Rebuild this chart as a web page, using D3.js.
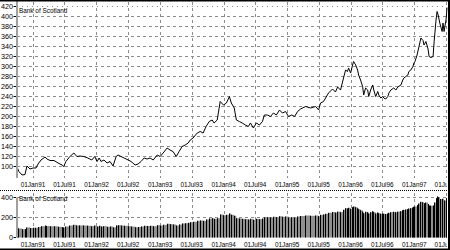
<!DOCTYPE html>
<html><head><meta charset="utf-8">
<script src="https://cdn.jsdelivr.net/npm/d3@7"></script>
<style>
html,body{margin:0;padding:0;background:#fff;}
svg{display:block;}
text{font-family:"Liberation Sans",Arial,sans-serif;font-size:8px;fill:#000;}
</style></head><body>
<svg id="c" width="450" height="250"></svg>
<script>
const title = "Bank of Scotland";
const dates = [
"1990-10-01","1990-10-12","1990-10-30","1990-11-16","1990-11-27","1990-12-15",
"1991-01-01","1991-01-18","1991-01-30","1991-02-16","1991-03-11","1991-03-22","1991-04-09","1991-05-02","1991-05-25","1991-06-17","1991-06-27",
"1991-07-09","1991-08-01","1991-08-24","1991-09-10","1991-09-27","1991-10-20","1991-11-12","1991-12-05","1991-12-22",
"1992-01-04","1992-01-16","1992-01-27","1992-02-13","1992-03-02","1992-03-19","1992-04-05","1992-04-23","1992-05-04","1992-05-21","1992-06-08",
"1992-07-01","1992-07-18","1992-08-10","1992-08-27","1992-09-13","1992-10-01","1992-10-18","1992-11-04","1992-11-22","1992-12-15",
"1993-01-01","1993-01-18","1993-02-10","1993-02-27","1993-03-16","1993-04-03","1993-04-20","1993-05-07","1993-05-25","1993-06-11","1993-06-23",
"1993-07-09","1993-08-02","1993-08-19","1993-09-05","1993-09-22","1993-10-10","1993-10-27","1993-11-07","1993-11-25","1993-12-12","1993-12-31",
"1994-01-17","1994-02-03","1994-02-14","1994-03-03","1994-03-15","1994-04-01","1994-04-18","1994-05-06","1994-05-23","1994-06-04","1994-06-21",
"1994-07-08","1994-07-26","1994-08-12","1994-08-23","1994-09-10","1994-09-27","1994-10-14","1994-10-31","1994-11-18","1994-12-05","1994-12-23",
"1995-01-09","1995-01-27","1995-02-13","1995-03-02","1995-03-19","1995-04-17","1995-05-16","1995-06-14",
"1995-07-01","1995-07-12","1995-07-29","1995-08-10","1995-08-27","1995-09-19","1995-10-06","1995-10-18","1995-11-04","1995-11-21","1995-12-03","1995-12-14","1995-12-20",
"1996-01-01","1996-01-12","1996-01-18","1996-01-30","1996-02-10","1996-02-16","1996-02-27","1996-03-10","1996-03-16","1996-03-27","1996-04-08","1996-04-14","1996-04-25","1996-05-07","1996-05-13","1996-05-24","1996-06-05","1996-06-11","1996-06-22",
"1996-07-04","1996-07-10","1996-07-21","1996-08-02","1996-08-08","1996-08-19","1996-09-05","1996-09-17","1996-09-28","1996-10-16","1996-10-27","1996-11-02","1996-11-13","1996-11-25","1996-12-01","1996-12-12","1996-12-24","1996-12-30",
"1997-01-05","1997-01-17","1997-01-28","1997-02-08","1997-02-20","1997-02-26","1997-03-09","1997-03-21","1997-03-27","1997-04-07","1997-04-19","1997-04-25","1997-05-06","1997-05-12","1997-05-18","1997-05-29","1997-06-10","1997-06-15","1997-06-21","1997-07-03","1997-07-08"
];
const prices = [
99,90,83,84,101,95,
97,97,105,113,119,115,112,112,107,103,100,
110,120,127,120,121,120,117,113,120,
110,117,110,113,107,110,101,120,123,120,117,
113,110,103,105,110,117,115,117,113,123,
120,127,137,133,130,120,130,140,143,147,153,
157,167,170,167,180,190,193,187,193,230,223,
227,240,227,217,193,190,187,183,180,187,177,
187,183,190,203,203,200,207,203,213,207,210,
200,203,200,210,215,220,217,220,
213,227,230,237,247,255,249,259,253,277,293,290,297,
287,303,310,303,293,283,273,260,243,257,253,240,253,263,253,240,250,243,237,
240,237,235,240,247,253,257,253,259,263,273,277,280,283,290,293,300,307,
310,323,340,357,352,343,350,335,320,318,320,350,393,410,403,385,370,387,370,395,418
];
const priceTicks = [100,120,140,160,180,200,220,240,260,280,300,320,340,360,380,400,420];
const barTicks = [0,200,400];
const dateTicks = ["1991-01-01","1991-07-01","1992-01-01","1992-07-01","1993-01-01","1993-07-01","1994-01-01","1994-07-01","1995-01-01","1995-07-01","1996-01-01","1996-07-01","1997-01-01","1997-07-01"];
const xDomain = ["1990-10-01","1997-07-08"];

const parse = d3.utcParse("%Y-%m-%d");
const fmt = d3.utcFormat("%d%b%y");
const data = dates.map((d,i)=>({date:parse(d), v:prices[i]}));
const tickDates = dateTicks.map(parse);

const L = 17, R = 447;
const x = d3.scaleTime().domain(xDomain.map(parse)).range([L, R]);
const yT = d3.scaleLinear().domain([80, 420]).range([176.5, 6.5]);
const yB = d3.scaleLinear().domain([0, 400]).range([237.5, 197.5]);

const svg = d3.select("#c");
const gridCol = "#8c8c8c";
const px = v => Math.round(v) + 0.5;
const SX = 0.8, SY = 0.9;

svg.append("defs").append("clipPath").attr("id","clip")
  .append("rect").attr("x",L).attr("y",0).attr("width",R-L).attr("height",250);

function xLabels(g, yPos) {
  g.append("g").attr("clip-path","url(#clip)").selectAll("g").data(tickDates).join("g")
    .attr("transform", d => `translate(${x(d)},${yPos})`)
    .append("text").attr("transform",`scale(${SX},1)`).attr("text-anchor","middle").text(d=>fmt(d));
}
function yLabels(g, ticks, sc) {
  g.selectAll("g.yl").data(ticks).join("g").attr("class","yl")
    .attr("transform", d => `translate(13,${sc(d)})`)
    .append("text").attr("transform",`scale(${SY},1)`).attr("dy","0.35em").attr("text-anchor","end").text(d=>d);
}
function titleText(g, yPos) {
  g.append("g").attr("transform",`translate(19,${yPos})`)
    .append("text").attr("transform",`scale(${SX},1)`).text(title);
}

// ---------- top panel ----------
const gTop = svg.append("g");
gTop.selectAll("line.hg").data(priceTicks).join("line")
  .attr("x1",L).attr("x2",R).attr("y1",d=>px(yT(d)-0.5)).attr("y2",d=>px(yT(d)-0.5))
  .attr("stroke",gridCol).attr("stroke-width",1)
  .attr("stroke-dasharray",d=>d===420?"1,4":"3,3");
gTop.selectAll("line.vg").data(tickDates).join("line")
  .attr("x1",d=>px(x(d))).attr("x2",d=>px(x(d))).attr("y1",2).attr("y2",178)
  .attr("stroke",gridCol).attr("stroke-width",1).attr("stroke-dasharray","3,3");

gTop.append("path").datum(data)
  .attr("fill","none").attr("stroke","#000").attr("stroke-width",1)
  .attr("d", d3.line().x(d=>x(d.date)).y(d=>yT(d.v)));

gTop.append("rect").attr("x",L-1).attr("y",0).attr("width",2).attr("height",178).attr("fill","#a0a0a0");
gTop.selectAll("line.tk").data(priceTicks).join("line")
  .attr("x1",13.5).attr("x2",16).attr("y1",d=>px(yT(d)-0.5)).attr("y2",d=>px(yT(d)-0.5))
  .attr("stroke","#000");
yLabels(gTop, priceTicks, yT);
titleText(gTop, 13);
xLabels(gTop, 187);

// separator
svg.append("line").attr("x1",0).attr("x2",450).attr("y1",190.5).attr("y2",190.5)
  .attr("stroke","#000").attr("stroke-dasharray","1,1");

// ---------- bottom panel ----------
const gBot = svg.append("g");
gBot.selectAll("line.hg").data(barTicks.filter(d=>d>0)).join("line")
  .attr("x1",L).attr("x2",R).attr("y1",d=>px(yB(d)-0.5)).attr("y2",d=>px(yB(d)-0.5))
  .attr("stroke",gridCol).attr("stroke-dasharray","3,3");
gBot.selectAll("line.vg").data(tickDates).join("line")
  .attr("x1",d=>px(x(d))).attr("x2",d=>px(x(d))).attr("y1",193).attr("y2",238)
  .attr("stroke",gridCol).attr("stroke-dasharray","3,3");

const bars = gBot.append("g").attr("clip-path","url(#clip)");
bars.selectAll("rect.g").data(data).join("rect")
  .attr("x",d=>x(d.date))
  .attr("width",(d,i)=>Math.max(1,(i<data.length-1?x(data[i+1].date):R)-x(d.date)))
  .attr("y",d=>yB(d.v)).attr("height",d=>yB(0)-yB(d.v))
  .attr("fill","#909090");
bars.selectAll("rect.b").data(data).join("rect")
  .attr("x",d=>Math.floor(x(d.date))).attr("width",1)
  .attr("y",d=>yB(d.v)).attr("height",d=>yB(0)-yB(d.v))
  .attr("fill","#000");

gBot.append("rect").attr("x",L-1).attr("y",yB(400)).attr("width",2).attr("height",yB(0)-yB(400)).attr("fill","#a0a0a0");
gBot.selectAll("line.tk").data(barTicks).join("line")
  .attr("x1",13.5).attr("x2",16).attr("y1",d=>px(yB(d)-0.5)).attr("y2",d=>px(yB(d)-0.5))
  .attr("stroke","#000");
yLabels(gBot, barTicks, yB);
titleText(gBot, 201);
xLabels(gBot, 247);

// frame
svg.append("rect").attr("x",0).attr("y",0).attr("width",450).attr("height",1.5).attr("fill","#000");
svg.append("rect").attr("x",448).attr("y",0).attr("width",2).attr("height",250).attr("fill","#000");
svg.append("rect").attr("x",0).attr("y",248.5).attr("width",450).attr("height",1.5).attr("fill","#000");
</script>
</body></html>
